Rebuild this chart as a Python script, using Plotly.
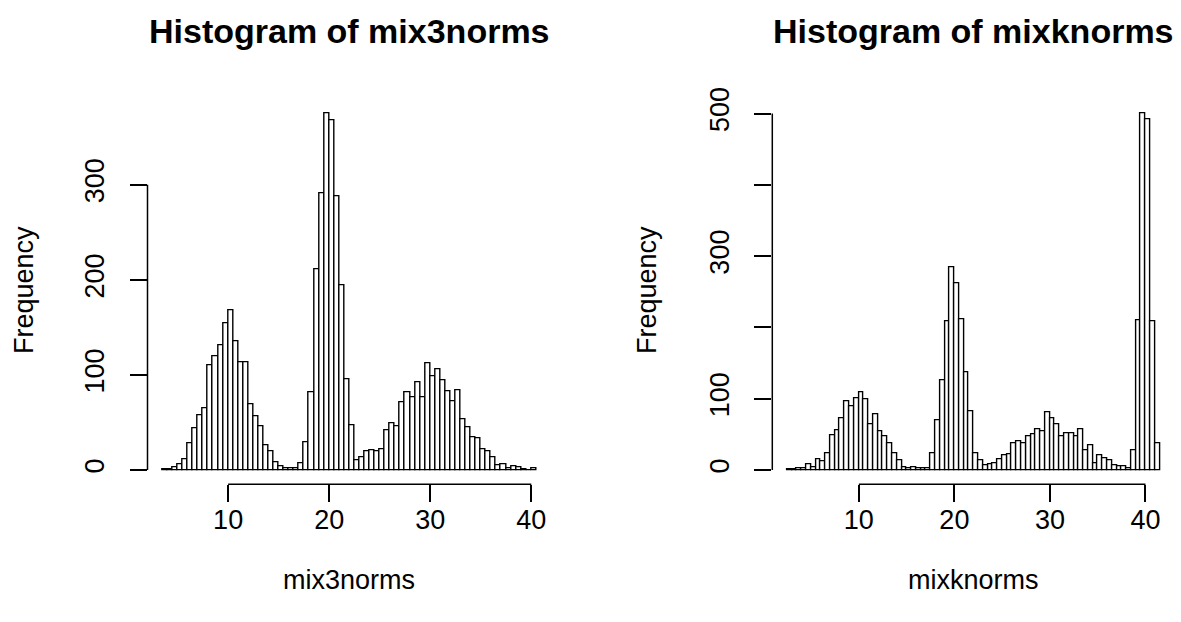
import numpy as np
import plotly.graph_objects as go

# --- data (bin width 0.5) ---
mix3_start = 3.5
mix3_counts = [1, 1, 3, 6, 11, 28, 44, 58, 65, 110, 120, 131, 154, 168, 135, 113, 113, 69, 57, 46,
               26, 20, 8, 4, 2, 2, 2, 7, 29, 82, 211, 291, 375, 368, 288, 194, 95, 47, 10, 13,
               20, 21, 20, 22, 42, 49, 46, 71, 82, 76, 92, 77, 112, 99, 106, 94, 83, 72, 84, 53,
               45, 34, 33, 22, 20, 13, 5, 6, 2, 4, 3, 1, 0, 2]

mixk_start = 2.5
mixk_counts = [1, 1, 2, 2, 8, 4, 15, 12, 23, 49, 56, 73, 97, 89, 100, 109, 99, 64, 78, 54,
               48, 37, 24, 13, 4, 2, 4, 2, 3, 2, 24, 70, 126, 209, 285, 262, 212, 137, 83, 23,
               13, 7, 8, 10, 15, 20, 22, 38, 40, 38, 47, 50, 57, 55, 81, 72, 64, 48, 51, 52,
               47, 57, 28, 35, 10, 20, 17, 13, 6, 5, 5, 2, 27, 210, 500, 492, 209, 37]

binw = 0.5
x_ticks = [10, 20, 30, 40]
left_yticks = [0, 100, 200, 300]
right_yticks = [0, 100, 200, 300, 400, 500]
right_ytext = ["0", "100", "", "300", "", "500"]

FONT = "Liberation Sans, Arial, Helvetica, sans-serif"
# the page body has an 8px margin, so the figure is a bit smaller than the window
OFF = 8
W, H = 1181 - OFF, 622 - OFF

def px(x):   # window x pixel -> paper fraction
    return (x - OFF) / W

def py(y):   # window y pixel -> paper fraction
    return 1 - (y - OFF) / H

def centers(start, n):
    return start + binw / 2 + binw * np.arange(n)

fig = go.Figure()
fig.add_trace(go.Bar(x=centers(mix3_start, len(mix3_counts)), y=mix3_counts, width=binw,
                     marker=dict(color="white", line=dict(color="black", width=1.4)),
                     xaxis="x", yaxis="y", showlegend=False))
fig.add_trace(go.Bar(x=centers(mixk_start, len(mixk_counts)), y=mixk_counts, width=binw,
                     marker=dict(color="white", line=dict(color="black", width=1.4)),
                     xaxis="x2", yaxis="y2", showlegend=False))

# plot regions (R layout, window pixels)
L = (px(147.5), px(551.3))
R = (px(772.3), px(1174.7))
YD = (py(484.3), py(99.3))

ax_common = dict(showgrid=False, zeroline=False, showline=False, ticks="outside",
                 ticklen=17, tickwidth=1.5, tickcolor="black",
                 tickfont=dict(family=FONT, size=27, color="black"))

fig.update_layout(
    width=W, height=H, margin=dict(l=0, r=0, t=0, b=0, autoexpand=False),
    paper_bgcolor="white", plot_bgcolor="white", bargap=0,
    xaxis=dict(domain=L, range=[2.02, 41.98], tickvals=x_ticks, anchor="y",
               ticklabelstandoff=-6, **ax_common),
    yaxis=dict(domain=YD, range=[-15, 390], tickvals=left_yticks, anchor="x",
               tickangle=-90, ticklabelstandoff=15, **ax_common),
    xaxis2=dict(domain=R, range=[0.94, 43.06], tickvals=x_ticks, anchor="y2",
                ticklabelstandoff=-6, **ax_common),
    yaxis2=dict(domain=YD, range=[-20, 520], tickvals=right_yticks, ticktext=right_ytext,
                anchor="x2", tickangle=-90, ticklabelstandoff=15, **ax_common),
)

# R-style axis lines that run only between the outer ticks
line = dict(color="black", width=1.5)
fig.add_shape(type="line", xref="x", yref="y domain", x0=x_ticks[0], x1=x_ticks[-1], y0=0, y1=0, line=line)
fig.add_shape(type="line", xref="x2", yref="y2 domain", x0=x_ticks[0], x1=x_ticks[-1], y0=0, y1=0, line=line)
fig.add_shape(type="line", xref="x domain", yref="y", x0=0, x1=0, y0=left_yticks[0], y1=left_yticks[-1], line=line)
fig.add_shape(type="line", xref="x2 domain", yref="y2", x0=0, x1=0, y0=right_yticks[0], y1=right_yticks[-1], line=line)

# titles and axis labels
for xr, title, xlab, fx in [("x domain", "Histogram of mix3norms", "mix3norms", 24),
                            ("x2 domain", "Histogram of mixknorms", "mixknorms", 647)]:
    fig.add_annotation(xref=xr, yref="paper", x=0.5, y=py(31), xanchor="center", yanchor="middle",
                       text="<b>" + title + "</b>", showarrow=False,
                       font=dict(family=FONT, size=34, color="black"))
    fig.add_annotation(xref=xr, yref="paper", x=0.5, y=py(580), xanchor="center", yanchor="middle",
                       text=xlab, showarrow=False, font=dict(family=FONT, size=27, color="black"))
    fig.add_annotation(xref="paper", yref="paper", x=px(fx), y=py(290), xanchor="center",
                       yanchor="middle", text="Frequency", textangle=-90, showarrow=False,
                       font=dict(family=FONT, size=27, color="black"))

fig.write_html("out.html")
